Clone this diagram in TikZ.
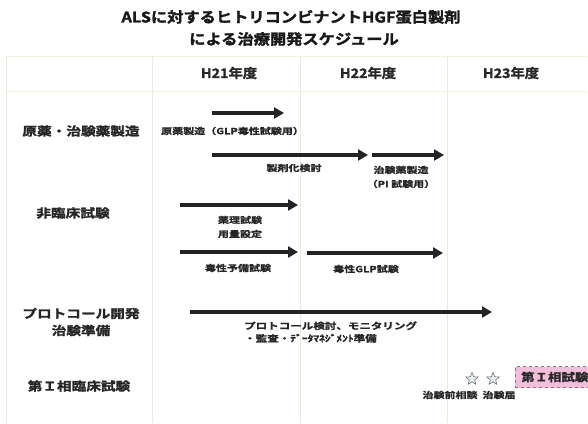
\documentclass[tikz,border=0pt]{standalone}
\usepackage{fontspec}
\setmainfont{Noto Sans CJK JP}[BoldFont={Noto Sans CJK JP Bold}]
\newfontfamily\jptitle{Noto Sans CJK JP Bold}[FakeBold=1.8, FakeStretch=1.12]
\newfontfamily\jphead{Noto Sans CJK JP Bold}[FakeBold=1.6, FakeStretch=1.1]
\newfontfamily\jprow{Noto Sans CJK JP Bold}[FakeBold=1.6, FakeStretch=1.22]
\newfontfamily\jpsmall{Noto Sans CJK JP Bold}[FakeBold=1.3, FakeStretch=1.28]
\usetikzlibrary{arrows.meta,shapes.geometric}
\definecolor{gridc}{RGB}{238,235,212}
\definecolor{barc}{RGB}{35,35,35}
\definecolor{pinkf}{RGB}{242,190,218}
\definecolor{pinkd}{RGB}{150,110,130}
\definecolor{starf}{RGB}{228,242,246}
\tikzset{
  gridline/.style={gridc, line width=0.8pt, dash pattern=on 2pt off 1pt},
  vline/.style={gridc, line width=0.8pt},
  bar/.style={barc, line width=4pt, -{Triangle[length=10pt,width=11pt]}},
  title/.style={font=\jptitle\fontsize{14.5}{17}\selectfont, inner sep=0pt, text=black!90},
  head/.style={font=\jphead\fontsize{13}{14}\selectfont, inner sep=0pt, text=black!85},
  rowlab/.style={font=\jprow\fontsize{12}{17}\selectfont, inner sep=0pt, align=center, text=black!85},
  small/.style={font=\jpsmall\fontsize{8.6}{14}\selectfont, inner sep=0pt, align=center, text=black!85},
  mid/.style={font=\jpsmall\fontsize{9}{12.5}\selectfont, inner sep=0pt, align=left, text=black!85},
  starshape/.style={star, star points=5, star point ratio=2.3, minimum size=13pt, inner sep=0pt, draw=black!55, fill=starf, line width=0.6pt},
}
\begin{document}
\begin{tikzpicture}[x=1pt,y=-1pt]
\useasboundingbox (0,0) rectangle (588,423);
\fill[white] (0,0) rectangle (588,423);
% grid
\draw[gridline] (6,56) -- (588,56);
\draw[gridline] (6,91) -- (588,91);
\draw[vline] (6,56) -- (6,423);
\draw[vline] (152,56) -- (152,423);
\draw[vline] (300,56) -- (300,423);
\draw[vline] (447,56) -- (447,423);
% title
\node[title] (t1) at (291,17) {ALSに対するヒトリコンビナントHGF蛋白製剤};
\node[title] (t2) at (294,39) {による治療開発スケジュール};
% headers
\node[head] (h21) at (229,73) {H21年度};
\node[head] (h22) at (368,73) {H22年度};
\node[head] (h23) at (511,73) {H23年度};
% row labels
\node[rowlab] (r1) at (81,131) {原薬・治験薬製造};
\node[rowlab] (r2) at (73,213) {非臨床試験};
\node[rowlab] (r3) at (81,322) {プロトコール開発\\治験準備};
\node[rowlab] (r4) at (79,386) {第Ｉ相臨床試験};
% bars
\coordinate (a1s) at (212,113); \coordinate (a1e) at (284,113);
\coordinate (a2s) at (212,155); \coordinate (a2e) at (368,155);
\coordinate (a3s) at (372,155); \coordinate (a3e) at (444,155);
\coordinate (a4s) at (180,205); \coordinate (a4e) at (298,205);
\coordinate (a5s) at (180,252); \coordinate (a5e) at (298,252);
\coordinate (a6s) at (307,253); \coordinate (a6e) at (443,253);
\coordinate (a7s) at (190,312); \coordinate (a7e) at (492,312);
\draw[bar] (a1s) -- (a1e);
\draw[bar] (a2s) -- (a2e);
\draw[bar] (a3s) -- (a3e);
\draw[bar] (a4s) -- (a4e);
\draw[bar] (a5s) -- (a5e);
\draw[bar] (a6s) -- (a6e);
\draw[bar] (a7s) -- (a7e);
% bar labels
\node[small, anchor=west] (l1) at (161,131) {原薬製造（GLP毒性試験用）};
\node[small] (l2) at (294,168) {製剤化検討};
\node[small] (l3) at (401,177) {治験薬製造\\（PI 試験用）};
\node[small] (l4) at (240,227) {薬理試験\\用量設定};
\node[small] (l5) at (238,268) {毒性予備試験};
\node[small] (l6) at (366,269) {毒性GLP試験};
\node[mid, anchor=west] (l7) at (244,332) {プロトコール検討、モニタリング\\・監査・ﾃﾞｰﾀﾏﾈｼﾞﾒﾝﾄ準備};
% stars and phase I
\node[starshape] (s1) at (472,379) {};
\node[starshape] (s2) at (493,379) {};
\node[small] (l8) at (450,395) {治験前相談};
\node[small] (l9) at (499,395) {治験届};
\node[draw=pinkd, dashed, fill=pinkf, line width=0.6pt, minimum height=21pt, minimum width=82pt, anchor=west, inner sep=0pt] (p1) at (515,377) {};
\node[font=\jprow\fontsize{11}{12}\selectfont, inner sep=0pt, text=black!85, anchor=west] (p1t) at (521,377) {第Ｉ相試験};
\end{tikzpicture}
\end{document}
